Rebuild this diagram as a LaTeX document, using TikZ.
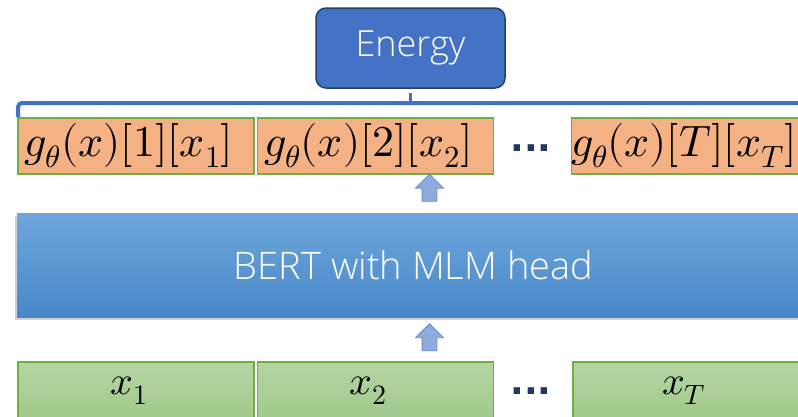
\documentclass[tikz,border=0pt]{standalone}
\usepackage{fontspec}
\usepackage{unicode-math}
\setmathfont{Latin Modern Math}
\newfontfamily\labelfont{Open Sans Light}
\newfontfamily\dotfont{DejaVu Sans}
\usetikzlibrary{shapes,arrows,shadows}

\definecolor{energyblue}{HTML}{4472C4}
\definecolor{energyline}{HTML}{25406B}
\definecolor{scoreorange}{HTML}{F4B183}
\definecolor{boxgreen}{HTML}{70AD47}
\definecolor{tokentop}{HTML}{B4D5A3}
\definecolor{tokenbottom}{HTML}{A0C98A}
\definecolor{berttop}{HTML}{6EA6DC}
\definecolor{bertmid}{HTML}{559CDD}
\definecolor{bertbottom}{HTML}{4888C8}
\definecolor{arrowfill}{HTML}{8FAADC}
\definecolor{arrowline}{HTML}{6F8FCB}
\definecolor{dotblue}{HTML}{1F3864}

\begin{document}
\begin{tikzpicture}[x=1pt, y=-1pt]
\tikzstyle{energybox}=[rectangle, rounded corners=10pt, fill=energyblue, draw=energyline, line width=1.5pt, minimum width=189pt, minimum height=80pt, text=white, font=\labelfont\fontsize{36}{40}\selectfont]
\tikzstyle{scorebox}=[rectangle, fill=scoreorange, draw=boxgreen, line width=1.2pt, minimum width=236pt, minimum height=56pt, inner sep=0pt, font=\fontsize{44}{50}\selectfont, execute at end node={\hspace{14pt}}]
\tikzstyle{tokenbox}=[rectangle, top color=tokentop, bottom color=tokenbottom, draw=boxgreen, line width=1.2pt, minimum width=236pt, minimum height=58pt, inner sep=0pt, font=\fontsize{40}{44}\selectfont, execute at end node={\hspace{14pt}}]
\tikzstyle{bertbox}=[rectangle, top color=berttop, middle color=bertmid, bottom color=bertbottom, minimum width=793pt, minimum height=104pt, text=white, font=\labelfont\fontsize{38}{42}\selectfont, drop shadow={shadow xshift=-2pt, shadow yshift=-3pt, opacity=0.35}]
\tikzstyle{uparrow}=[single arrow, shape border rotate=90, fill=arrowfill, draw=arrowline, line width=0.8pt, inner sep=7pt, minimum height=27pt, single arrow head extend=6.5pt]
\tikzstyle{dotsnode}=[text=dotblue, font=\dotfont\bfseries\fontsize{36}{40}\selectfont]
\tikzstyle{bracket}=[energyblue, line width=4pt, rounded corners=4pt]

\clip (0,0) rectangle (798,416);

% energy on top
\node[energybox] (E) at (410.5,48) {Energy};

% per-position scores
\node[scorebox] (S1) at (136,146) {$g_\theta(x)[1][x_1]$};
\node[scorebox] (S2) at (375.5,146) {$g_\theta(x)[2][x_2]$};
\node[dotsnode] (Sd) at (531,148) {...};
\node[scorebox] (ST) at (691,146) {$g_\theta(x)[T][x_T]$};

% bracket collecting the scores
\coordinate (brL) at (18,117);
\coordinate (brR) at (810,103);
\draw[bracket] (brL) |- (brR);
\draw[energyblue, line width=3pt] (E.south |- brR) -- ([yshift=-4pt]E.south);

% encoder
\node[bertbox] (B) at (413.5,265) {BERT with MLM head};
\node[uparrow] (A1) at (429.5,191.5) {};
\node[uparrow] (A2) at (429.5,341) {};

% input tokens
\node[tokenbox] (X1) at (136,391) {$x_1$};
\node[tokenbox] (X2) at (375.5,391) {$x_2$};
\node[dotsnode] (Xd) at (531,391) {...};
\node[tokenbox] (XT) at (691,391) {$x_T$};
\end{tikzpicture}
\end{document}
